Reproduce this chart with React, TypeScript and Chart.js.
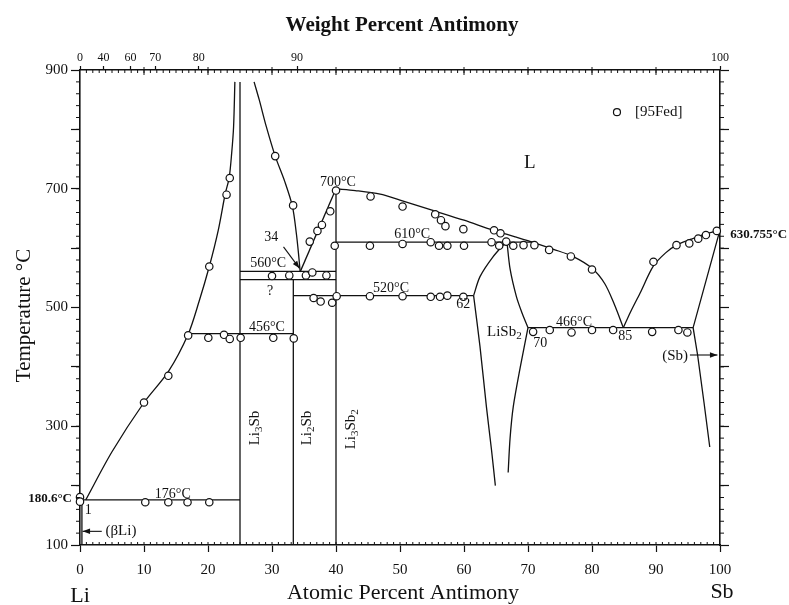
import React, { useEffect, useRef } from 'react';
import { Chart, registerables } from 'chart.js';
Chart.register(...registerables);

const FONT = '"Liberation Serif", "Times New Roman", serif';
const INK = '#111';

// ---- axes ----
const tempLabels = [100, 300, 500, 700, 900];
const weightTicks = [0, 40, 60, 70, 80, 90, 100];
const MASS_LI = 6.941;
const MASS_SB = 121.76;
function wtToAt(w: number) {
  if (w >= 100) return 100;
  const a = w / MASS_SB;
  const b = (100 - w) / MASS_LI;
  return (100 * a) / (a + b);
}

// ---- phase boundaries (at.% Sb, °C) ----
const liquidusLi = [[0.9, 176], [5, 257], [10, 340], [13.8, 392], [16.9, 455], [18.6, 510], [20.2, 569], [21.6, 630], [22.7, 692], [23.3, 718], [23.7, 760], [24.0, 805], [24.2, 880]];
const liquidusLi3SbRight = [[27.2, 880], [28.0, 850], [29.1, 805], [30.5, 755], [32.0, 712], [33.2, 670], [33.8, 625], [34.15, 590], [34.4, 560]];
const liquidusTo700 = [[34.4, 560], [40, 700]];
const liquidusMain = [[40, 700], [43, 697], [46.9, 691], [50, 681], [55, 664], [60, 647], [64.6, 630], [68, 619], [71, 609], [74, 598], [77, 586], [80, 566], [82, 540], [83.5, 505], [84.9, 466]];
const liquidusSb = [[84.9, 466], [86, 492], [87.5, 524], [89.6, 570], [91.5, 592], [93.2, 605], [95.5, 615], [97.5, 623], [100, 630.755]];
const lisb2LeftUpper = [[61.5, 520], [62.5, 552], [64.5, 585], [66.7, 612]];
const lisb2RightUpper = [[66.7, 612], [67.2, 565], [68.2, 518], [69.1, 490], [70, 466]];
const lisb2LeftLower = [[61.5, 520], [62.5, 434], [63.5, 333], [64.3, 260], [64.9, 200]];
const lisb2RightLower = [[70, 466], [68.8, 400], [67.7, 333], [67.2, 280], [66.9, 222]];
const sbSolvus = [[100, 630.755], [95.8, 466], [96.5, 420], [97.5, 340], [98.4, 265]];

const li3SbLine = [[25, 100], [25, 880]];
const li2SbLine = [[33.33, 100], [33.33, 547]];
const li3Sb2Line = [[40, 100], [40, 700]];
const betaLiLine = [[0.3, 100], [0.3, 176]];
const line176 = [[0.3, 176], [25, 176]];
const line456 = [[16.9, 456], [33.33, 456]];
const line560 = [[25, 561], [40, 561]];
const line547 = [[25, 547], [40, 547]];
const line520 = [[33.33, 520], [61.5, 520]];
const line610 = [[40, 610], [71, 610]];
const line466 = [[70, 466], [95.8, 466]];

const curves = [liquidusLi, liquidusLi3SbRight, liquidusMain, liquidusSb, lisb2LeftUpper, lisb2RightUpper, lisb2LeftLower, lisb2RightLower];
const straights = [liquidusTo700, sbSolvus, li3SbLine, li2SbLine, li3Sb2Line, betaLiLine, line176, line456, line560, line547, line520, line610, line466];

// ---- measured points [95Fed] ----
const liquidusPts = [[0, 180.6], [0, 173], [10, 340], [13.8, 385], [20.2, 569], [22.9, 690], [23.4, 718], [30.5, 755], [33.3, 672], [35.9, 611], [37.1, 629], [37.8, 639], [39.1, 662], [40, 697], [45.4, 687], [50.4, 670], [55.5, 657], [56.4, 647], [57.1, 637], [59.9, 632], [64.7, 630], [65.7, 625], [73.3, 597], [76.7, 586], [80, 564], [89.6, 577], [93.2, 605], [95.2, 608], [96.6, 616], [97.8, 622], [99.5, 629]];
const arrest176 = [[10.2, 172], [13.8, 172], [16.8, 172], [20.2, 172]];
const arrest456 = [[16.9, 453], [20.05, 449], [22.5, 454], [23.4, 447], [25.1, 449], [30.2, 449], [33.4, 448]];
const arrest560 = [[30, 553], [32.7, 554], [35.3, 554], [36.3, 559], [38.5, 554]];
const arrest520 = [[36.5, 516], [37.6, 510], [39.4, 508], [40.1, 519], [45.3, 519], [50.4, 519], [54.8, 518], [56.25, 518], [57.4, 520], [59.9, 518]];
const arrest610 = [[39.8, 604], [45.3, 604], [50.4, 607], [54.8, 610], [56.1, 604], [57.4, 604], [60, 604], [64.3, 610], [65.5, 604], [66.6, 611], [67.7, 604], [69.3, 605], [71, 605]];
const arrest466 = [[70.8, 459], [73.4, 462], [76.8, 458], [80, 462], [83.3, 462], [89.4, 459], [93.5, 462], [94.9, 458]];
const allPoints = [liquidusPts, arrest176, arrest456, arrest560, arrest520, arrest610, arrest466];

// ---- annotations (data coords) ----
type Ann = { t: string; x: number; y: number; size: number; bold?: boolean; align?: CanvasTextAlign; rot?: number };
const annotations: Ann[] = [
  { t: 'L', x: 70.3, y: 743, size: 19 },
  { t: '700°C', x: 40.3, y: 711, size: 14 },
  { t: '34', x: 29.9, y: 618, size: 14 },
  { t: '560°C', x: 29.4, y: 575, size: 14 },
  { t: '?', x: 29.7, y: 527, size: 14 },
  { t: '456°C', x: 29.2, y: 466, size: 14 },
  { t: '520°C', x: 48.6, y: 533, size: 14 },
  { t: '610°C', x: 51.9, y: 624, size: 14 },
  { t: '62', x: 59.9, y: 506, size: 14 },
  { t: 'LiSb_2', x: 66.3, y: 459, size: 15 },
  { t: '70', x: 71.9, y: 440, size: 14 },
  { t: '466°C', x: 77.2, y: 475, size: 14 },
  { t: '85', x: 85.2, y: 452, size: 14 },
  { t: '(Sb)', x: 93.0, y: 419, size: 15 },
  { t: '630.755°C', x: 101.6, y: 622, size: 13, bold: true, align: 'left' },
  { t: '180.6°C', x: -1.25, y: 178, size: 13, bold: true, align: 'right' },
  { t: '1', x: 1.3, y: 158, size: 14 },
  { t: '(βLi)', x: 6.4, y: 123, size: 15 },
  { t: '176°C', x: 14.5, y: 185, size: 14 },
  { t: 'Li_3Sb', x: 27.3, y: 297, size: 15, rot: -Math.PI / 2 },
  { t: 'Li_2Sb', x: 35.5, y: 297, size: 15, rot: -Math.PI / 2 },
  { t: 'Li_3Sb_2', x: 42.3, y: 295, size: 15, rot: -Math.PI / 2 },
  { t: '[95Fed]', x: 86.7, y: 829, size: 15, align: 'left' },
];
const arrows = [
  { from: [31.8, 602], to: [34.3, 566] },
  { from: [95.3, 420], to: [99.6, 420] },
  { from: [3.4, 123], to: [0.4, 123] },
];
const legendMarker = [83.9, 829];

function parseRich(t: string): [string, boolean][] {
  const parts: [string, boolean][] = [];
  let buf = '';
  for (let i = 0; i < t.length; i++) {
    if (t[i] === '_' && i + 1 < t.length) {
      if (buf) parts.push([buf, false]);
      buf = '';
      parts.push([t[i + 1], true]);
      i++;
    } else buf += t[i];
  }
  if (buf) parts.push([buf, false]);
  return parts;
}

function drawRich(ctx: CanvasRenderingContext2D, a: Ann, px: number, py: number) {
  const parts = parseRich(a.t);
  const w = a.bold ? 'bold ' : '';
  const fMain = `${w}${a.size}px ${FONT}`;
  const fSub = `${w}${Math.round(a.size * 0.72)}px ${FONT}`;
  let total = 0;
  const widths = parts.map(([s, sub]) => {
    ctx.font = sub ? fSub : fMain;
    const m = ctx.measureText(s).width;
    total += m;
    return m;
  });
  ctx.save();
  ctx.translate(px, py);
  if (a.rot) ctx.rotate(a.rot);
  let x0 = -total / 2;
  if (a.align === 'left') x0 = 0;
  if (a.align === 'right') x0 = -total;
  ctx.textAlign = 'left';
  ctx.textBaseline = 'middle';
  ctx.fillStyle = INK;
  parts.forEach(([s, sub], i) => {
    ctx.font = sub ? fSub : fMain;
    ctx.fillText(s, x0, sub ? a.size * 0.28 : 0);
    x0 += widths[i];
  });
  ctx.restore();
}

const decorPlugin = {
  id: 'decor',
  afterDraw(chart: any) {
    const { ctx, chartArea } = chart;
    const { left, right, top, bottom } = chartArea;
    const x = chart.scales.x;
    const y = chart.scales.y;
    ctx.save();
    ctx.strokeStyle = INK;
    ctx.lineWidth = 1;
    ctx.beginPath();
    for (let v = 1; v < 100; v++) {
      const px = x.getPixelForValue(v);
      ctx.moveTo(px, bottom);
      ctx.lineTo(px, bottom - 3);
      ctx.moveTo(px, top);
      ctx.lineTo(px, top + 3);
    }
    for (let v = 10; v < 100; v += 10) {
      const px = x.getPixelForValue(v);
      ctx.moveTo(px, top - 3);
      ctx.lineTo(px, top + 5);
    }
    for (let t = 120; t < 900; t += 20) {
      const py = y.getPixelForValue(t);
      ctx.moveTo(left - 4, py);
      ctx.lineTo(left, py);
      ctx.moveTo(right, py);
      ctx.lineTo(right + 4, py);
    }
    ctx.stroke();

    // arrows
    ctx.lineWidth = 1.1;
    arrows.forEach(({ from, to }) => {
      const x1 = x.getPixelForValue(from[0]);
      const y1 = y.getPixelForValue(from[1]);
      const x2 = x.getPixelForValue(to[0]);
      const y2 = y.getPixelForValue(to[1]);
      const ang = Math.atan2(y2 - y1, x2 - x1);
      ctx.beginPath();
      ctx.moveTo(x1, y1);
      ctx.lineTo(x2, y2);
      ctx.stroke();
      ctx.beginPath();
      ctx.moveTo(x2, y2);
      ctx.lineTo(x2 - 8 * Math.cos(ang - 0.35), y2 - 8 * Math.sin(ang - 0.35));
      ctx.lineTo(x2 - 8 * Math.cos(ang + 0.35), y2 - 8 * Math.sin(ang + 0.35));
      ctx.closePath();
      ctx.fillStyle = INK;
      ctx.fill();
    });

    // legend marker
    ctx.beginPath();
    ctx.arc(x.getPixelForValue(legendMarker[0]), y.getPixelForValue(legendMarker[1]), 3.5, 0, Math.PI * 2);
    ctx.fillStyle = '#fff';
    ctx.fill();
    ctx.lineWidth = 1.2;
    ctx.stroke();

    annotations.forEach((a) => drawRich(ctx, a, x.getPixelForValue(a.x), y.getPixelForValue(a.y)));

    // axis titles
    ctx.fillStyle = INK;
    ctx.textAlign = 'center';
    ctx.textBaseline = 'middle';
    ctx.font = `bold 21px ${FONT}`;
    ctx.fillText('Weight Percent Antimony', (left + right) / 2 + 2, 26);
    ctx.font = `22px ${FONT}`;
    ctx.fillText('Atomic Percent Antimony', (left + right) / 2 + 3, 593);
    ctx.fillText('Li', left, 596);
    ctx.fillText('Sb', right + 2, 592);
    ctx.save();
    ctx.translate(24, (top + bottom) / 2 + 8);
    ctx.rotate(-Math.PI / 2);
    ctx.font = `21px ${FONT}`;
    ctx.fillText('Temperature °C', 0, 0);
    ctx.restore();
    ctx.restore();
  },
};

const toXY = (arr: number[][]) => arr.map(([a, b]) => ({ x: a, y: b }));

export default function App() {
  const ref = useRef<HTMLCanvasElement>(null);
  useEffect(() => {
    const lineStyle = { borderColor: INK, borderWidth: 1.3, pointRadius: 0, showLine: true, order: 2, fill: false };
    const datasets: any[] = [
      ...curves.map((c) => ({ ...lineStyle, data: toXY(c), tension: 0.3 })),
      ...straights.map((c) => ({ ...lineStyle, data: toXY(c), tension: 0 })),
      ...allPoints.map((p) => ({
        data: toXY(p),
        showLine: false,
        pointRadius: 3.7,
        pointBackgroundColor: '#fff',
        pointBorderColor: INK,
        pointBorderWidth: 1.2,
        order: 0,
        clip: false,
      })),
    ];
    const tickFont = { family: FONT, size: 15 };
    const chart = new Chart(ref.current as HTMLCanvasElement, {
      type: 'scatter',
      data: { datasets },
      options: {
        responsive: false,
        animation: false,
        events: [],
        layout: { padding: 0 },
        plugins: { legend: { display: false }, tooltip: { enabled: false } },
        scales: {
          x: {
            type: 'linear', position: 'bottom', min: 0, max: 100,
            ticks: { stepSize: 10, color: INK, font: tickFont, padding: 9, maxRotation: 0, autoSkip: false },
            grid: { drawOnChartArea: false, tickLength: 7, color: INK, tickWidth: 1.2 },
            border: { color: INK, width: 1.6 },
            afterFit: (s: any) => { s.height = 60; },
          },
          x2: {
            type: 'linear', position: 'top', min: 0, max: 100,
            afterBuildTicks: (s: any) => { s.ticks = weightTicks.map((w) => ({ value: wtToAt(w) })); },
            ticks: { color: INK, font: { family: FONT, size: 12 }, padding: 1, maxRotation: 0, autoSkip: false, callback: (_v: any, i: number) => String(weightTicks[i]) },
            grid: { drawOnChartArea: false, tickLength: 4, color: INK, tickWidth: 1.2 },
            border: { color: INK, width: 1.6 },
            afterFit: (s: any) => { s.height = 70; },
          },
          y: {
            type: 'linear', position: 'left', min: 100, max: 900,
            ticks: { stepSize: 100, color: INK, font: tickFont, padding: 3, callback: (v: any) => (tempLabels.includes(v) ? String(v) : '') },
            grid: { drawOnChartArea: false, tickLength: 9, color: INK, tickWidth: 1.2 },
            border: { color: INK, width: 1.6 },
            afterFit: (s: any) => { s.width = 80; },
          },
          y2: {
            type: 'linear', position: 'right', min: 100, max: 900,
            ticks: { stepSize: 100, display: false },
            grid: { drawOnChartArea: false, tickLength: 9, color: INK, tickWidth: 1.2 },
            border: { color: INK, width: 1.6 },
            afterFit: (s: any) => { s.width = 69; },
          },
        },
      } as any,
      plugins: [decorPlugin],
    });
    return () => chart.destroy();
  }, []);
  return (
    <div style={{ position: 'fixed', left: 0, top: 0, width: 789, height: 605, background: '#fff' }}>
      <canvas ref={ref} width={789} height={605} style={{ width: 789, height: 605, display: 'block' }} />
    </div>
  );
}
